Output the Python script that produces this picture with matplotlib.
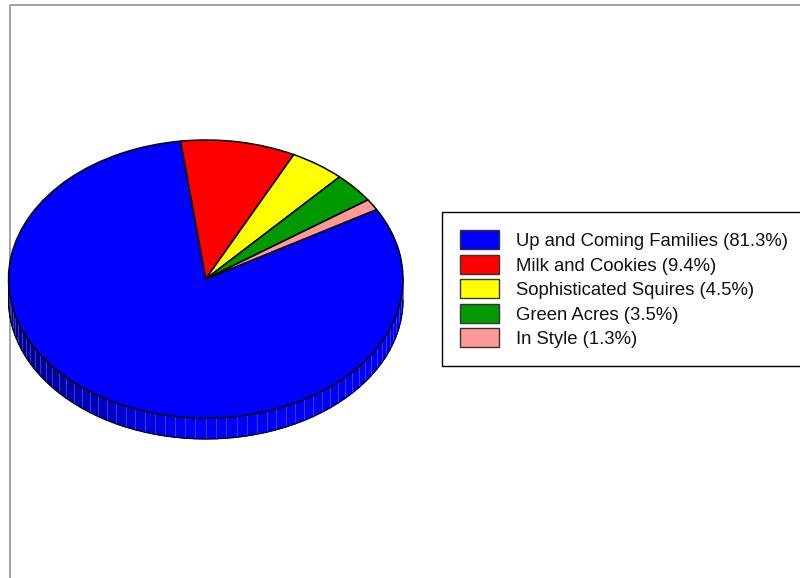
import matplotlib
matplotlib.use("Agg")
import matplotlib.pyplot as plt
import numpy as np
from matplotlib.collections import PolyCollection
from matplotlib.lines import Line2D
from matplotlib.patches import Patch

plt.rcParams['font.family'] = ['Liberation Sans', 'DejaVu Sans']

segments = ["Up and Coming Families", "Milk and Cookies", "Sophisticated Squires", "Green Acres", "In Style"]
shares = [81.3, 9.4, 4.5, 3.5, 1.3]
colors = ["#0000ff", "#ff0000", "#ffff00", "#009900", "#ff9999"]

W, H = 800, 578
fig = plt.figure(figsize=(W / 100, H / 100), dpi=100)

# outer frame, only top and left are visible
bg = fig.add_axes([0, 0, 1, 1])
bg.set_xlim(0, W)
bg.set_ylim(H, 0)
bg.axis("off")
bg.add_line(Line2D([9.5, 9.5, W], [H, 4.5, 4.5], color="#8c8c8c", lw=1.1))

# pie lives in an axes stretched to an ellipse
ax = fig.add_axes([8.5 / W, 1 - 418 / H, 394.5 / W, 278 / H])
ax.pie(shares, colors=colors, startangle=30.0, counterclock=False, radius=1,
       wedgeprops={"edgecolor": "black", "linewidth": 1.1, "clip_on": False, "zorder": 5})
ax.set_aspect("auto")
ax.set_xlim(-1, 1)
ax.set_ylim(-1, 1)

# side wall under the front half, split in ribs, dark on the left and bright from the bottom on
depth = 21 / 139
edges = np.radians(np.arange(180, 361, 3.0))
polys = []
shades = []
for a, b in zip(edges[:-1], edges[1:]):
    ca, cb = np.cos(a), np.cos(b)
    sa, sb = np.sin(a), np.sin(b)
    polys.append([(ca, sa), (cb, sb), (cb, sb - depth), (ca, sa - depth)])
    mid = (ca + cb + 2) / 4
    shades.append((0, 0, min(0.97, 0.52 + 1.0 * mid)))
wall = PolyCollection(polys, facecolors=shades, edgecolors=shades, linewidths=0.6,
                      clip_on=False, zorder=1)
ax.add_collection(wall)
for a in edges[1:-1]:
    ax.plot([np.cos(a)] * 2, [np.sin(a), np.sin(a) - depth], color="#7a7aff", lw=0.4,
            alpha=0.8, clip_on=False, zorder=1.5)
t = np.linspace(np.pi, 2 * np.pi, 300)
ax.plot(np.cos(t), np.sin(t) - depth, color="black", lw=0.8, clip_on=False, zorder=2)

labels = [f"{s} ({v}%)" for s, v in zip(segments, shares)]
handles = [Patch(facecolor=c, edgecolor="#333333", linewidth=1) for c in colors]
leg = fig.legend(handles, labels, loc="upper left", bbox_to_anchor=(442 / W, 1 - 212 / H),
                 borderaxespad=0, fontsize=13.3, fancybox=False, framealpha=1, edgecolor="black",
                 handlelength=2.06, handleheight=1.205, handletextpad=0.97, labelspacing=0.255,
                 borderpad=1.0)
leg.get_frame().set_linewidth(1.0)
for txt in leg.get_texts():
    txt.set_color("#111111")

fig.savefig("out.png", dpi=100)
